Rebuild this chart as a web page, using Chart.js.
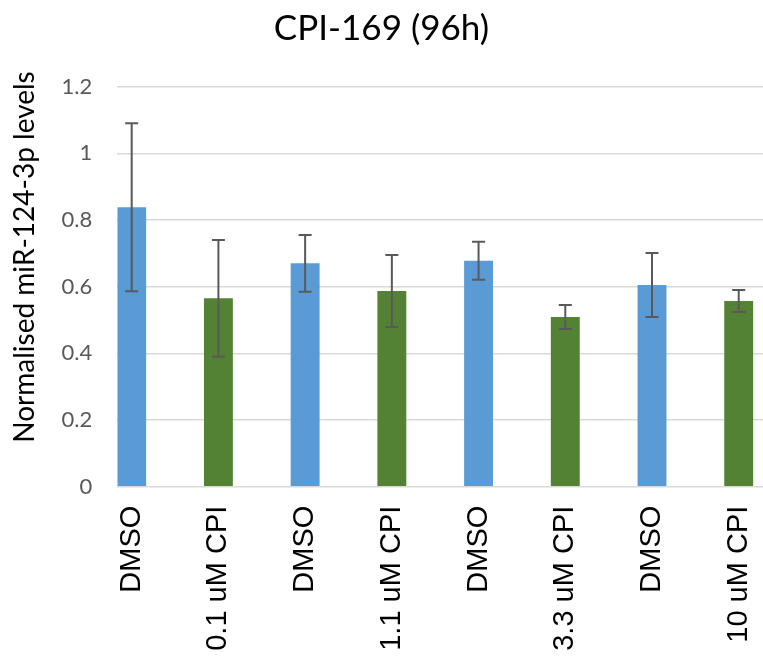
<!DOCTYPE html>
<html>
<head>
<meta charset="utf-8">
<script src="https://cdn.jsdelivr.net/npm/chart.js@4.4.1/dist/chart.umd.min.js"></script>
<style>
  html, body { margin: 0; padding: 0; background: #fff; overflow: hidden; }
  #chart { display: block; }
</style>
</head>
<body>
<canvas id="chart" width="763" height="668"></canvas>
<script>
// Data
const categories = ['DMSO', '0.1 uM CPI', 'DMSO', '1.1 uM CPI', 'DMSO', '3.3 uM CPI', 'DMSO', '10 uM CPI'];
const means = [0.838, 0.565, 0.670, 0.587, 0.678, 0.509, 0.605, 0.557];
const errors = [0.252, 0.175, 0.085, 0.108, 0.057, 0.036, 0.096, 0.033];
const yTicks = [0, 0.2, 0.4, 0.6, 0.8, 1, 1.2];

const BLUE = '#5B9BD5';
const GREEN = '#548235';

// Error bars drawn from the scales
const errorBars = {
  id: 'errorBars',
  afterDatasetsDraw(chart) {
    const ctx = chart.ctx;
    const xs = chart.scales.x, ys = chart.scales.y;
    ctx.save();
    ctx.strokeStyle = '#595959';
    ctx.lineWidth = 2;
    means.forEach(function(m, i) {
      const x = xs.getPixelForValue(i);
      const top = ys.getPixelForValue(m + errors[i]);
      const bot = ys.getPixelForValue(m - errors[i]);
      ctx.beginPath();
      ctx.moveTo(x, top); ctx.lineTo(x, bot);
      ctx.moveTo(x - 6.5, top); ctx.lineTo(x + 6.5, top);
      ctx.moveTo(x - 6.5, bot); ctx.lineTo(x + 6.5, bot);
      ctx.stroke();
    });
    ctx.restore();
  }
};

// Y axis title, placed like the reference (not centred on the plot)
const yTitle = {
  id: 'yTitle',
  afterDraw(chart) {
    const ctx = chart.ctx;
    ctx.save();
    ctx.translate(25, 257);
    ctx.rotate(-Math.PI / 2);
    ctx.font = '28px Lato';
    ctx.fillStyle = '#000';
    ctx.textAlign = 'center';
    ctx.textBaseline = 'middle';
    ctx.fillText('Normalised miR-124-3p levels', 0, 0);
    ctx.restore();
  }
};

new Chart(document.getElementById('chart'), {
  type: 'bar',
  data: {
    datasets: [{
      data: means.map((v, i) => ({ x: i, y: v })),
      backgroundColor: categories.map(c => c === 'DMSO' ? BLUE : GREEN),
      borderWidth: 0,
      barPercentage: 1 / 3,
      categoryPercentage: 1
    }]
  },
  options: {
    responsive: false,
    animation: false,
    layout: { padding: 0 },
    plugins: {
      legend: { display: false },
      tooltip: { enabled: false },
      title: {
        display: true,
        text: 'CPI-169 (96h)',
        color: '#000',
        font: { family: 'Lato', size: 35, weight: 'normal' },
        padding: { top: 8, bottom: 36.7 }
      }
    },
    scales: {
      x: {
        type: 'linear',
        offset: false,
        min: -0.166,
        max: 7.28,
        grid: { display: false },
        border: { display: false },
        afterBuildTicks: function(scale) {
          scale.ticks = categories.map((_, i) => ({ value: i }));
        },
        afterFit: function(scale) {
          scale.height = 181.3;
          scale.paddingLeft = 0;
          scale.paddingRight = 0;
        },
        ticks: {
          autoSkip: false,
          minRotation: 90,
          maxRotation: 90,
          padding: 11,
          color: '#000',
          font: { family: 'Liberation Sans', size: 29 },
          callback: function(v) { return categories[v]; }
        }
      },
      y: {
        min: 0,
        max: 1.2,
        afterBuildTicks: function(scale) {
          scale.ticks = yTicks.map(v => ({ value: v }));
        },
        afterFit: function(scale) { scale.width = 117.3; },
        grid: { color: '#d9d9d9', lineWidth: 1.5, drawTicks: false },
        border: { display: false },
        ticks: {
          padding: 25,
          color: '#595959',
          font: { family: 'Lato', size: 22 },
          callback: function(v) { return String(+v.toFixed(1)); }
        }
      }
    }
  },
  plugins: [errorBars, yTitle]
});
</script>
</body>
</html>
